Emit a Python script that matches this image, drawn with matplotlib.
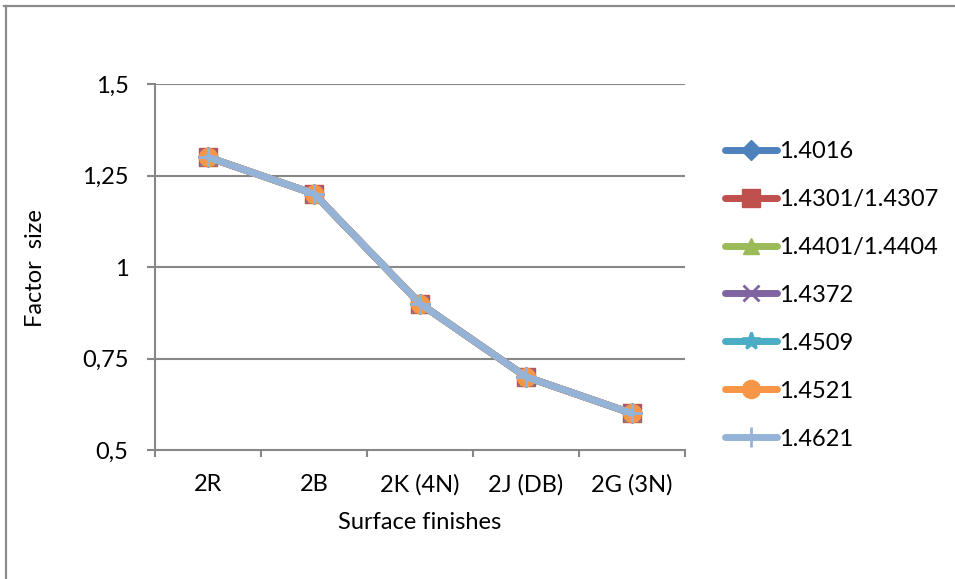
import matplotlib
matplotlib.use("Agg")
import matplotlib.pyplot as plt
from matplotlib.lines import Line2D

plt.rcParams['font.family'] = ['Lato', 'DejaVu Sans']

categories = ["2R", "2B", "2K (4N)", "2J (DB)", "2G (3N)"]
grades = ["1.4016", "1.4301/1.4307", "1.4401/1.4404", "1.4372",
          "1.4509", "1.4521", "1.4621"]
factor_1_4016 = [1.3, 1.2, 0.9, 0.7, 0.6]
factor_1_4301 = [1.3, 1.2, 0.9, 0.7, 0.6]
factor_1_4401 = [1.3, 1.2, 0.9, 0.7, 0.6]
factor_1_4372 = [1.3, 1.2, 0.9, 0.7, 0.6]
factor_1_4509 = [1.3, 1.2, 0.9, 0.7, 0.6]
factor_1_4521 = [1.3, 1.2, 0.9, 0.7, 0.6]
factor_1_4621 = [1.3, 1.2, 0.9, 0.7, 0.6]
y_ticks = [0.5, 0.75, 1.0, 1.25, 1.5]
y_tick_labels = ["0,5", "0,75", "1", "1,25", "1,5"]

series = [factor_1_4016, factor_1_4301, factor_1_4401, factor_1_4372,
          factor_1_4509, factor_1_4521, factor_1_4621]
colors = ["#4F81BD", "#C0504D", "#9BBB59", "#8064A2",
          "#4BACC6", "#F79646", "#95B3D7"]
markers = ["D", "s", "^", "x", "*", "o", "+"]
msizes = [10, 13, 12, 12, 13, 13, 15]
FS = 17

W, H = 955, 579
fig = plt.figure(figsize=(W / 100, H / 100), dpi=100)
fig.patch.set_facecolor("white")

# outer chart frame (top and left edges)
fig.add_artist(Line2D([4 / W, 1], [1 - 6 / H, 1 - 6 / H], color="#8C8C8C", lw=1.6))
fig.add_artist(Line2D([6 / W, 6 / W], [0, 1 - 6 / H], color="#8C8C8C", lw=1.6))

ax = fig.add_axes([155 / W, 1 - 450 / H, 530 / W, 366 / H])
ax.set_xlim(-0.5, 4.5)
ax.set_ylim(0.5, 1.5)

for y in y_ticks[1:]:
    ax.axhline(y, color="#878787", lw=1.5, zorder=1)

x = list(range(len(categories)))
for vals, c, m, ms in zip(series, colors, markers, msizes):
    ax.plot(x, vals, color=c, lw=5, marker=m, markersize=ms,
            markerfacecolor=c, markeredgecolor=c,
            markeredgewidth=2 if m in ("x", "+", "*") else 1,
            solid_capstyle="round", zorder=3)

for side in ("top", "right"):
    ax.spines[side].set_visible(False)
for side in ("left", "bottom"):
    ax.spines[side].set_color("#878787")
    ax.spines[side].set_linewidth(1.5)

ax.set_yticks(y_ticks)
ax.set_yticklabels(y_tick_labels, fontsize=FS)
ax.tick_params(axis="y", length=6, width=1.5, color="#878787", pad=13)

ax.set_xticks(x)
ax.set_xticklabels(categories, fontsize=FS)
ax.set_xticks([i + 0.5 for i in range(-1, len(categories))], minor=True)
ax.tick_params(axis="x", which="major", length=0, pad=17)
ax.tick_params(axis="x", which="minor", length=5, width=1.5, color="#878787")

ax.set_xlabel("Surface finishes", fontsize=FS, labelpad=12)
fig.text(35 / W, 1 - 268 / H, "Factor  size", rotation=90, fontsize=FS,
         ha="center", va="center")

leg_handles = [Line2D([0], [0], color=c, lw=5, marker=m, markersize=ms,
                      markerfacecolor=c, markeredgecolor=c,
                      markeredgewidth=2 if m in ("x", "+", "*") else 1,
                      solid_capstyle="round")
               for c, m, ms in zip(colors, markers, msizes)]
fig.legend(leg_handles, grades, loc="upper left",
           bbox_to_anchor=(725 / W, 1 - 141 / H), frameon=False,
           fontsize=FS, handlelength=2.2, handletextpad=0.1,
           labelspacing=1.14, borderpad=0, borderaxespad=0)

fig.savefig("out.png", dpi=100, facecolor="white")
